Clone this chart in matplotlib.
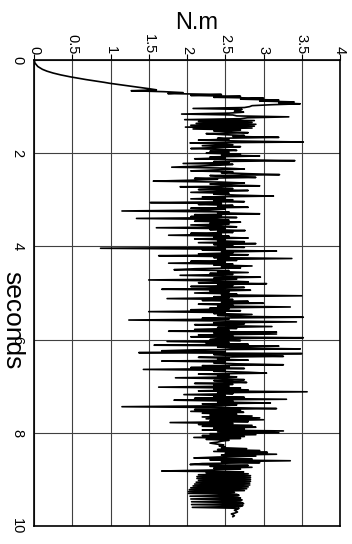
import matplotlib.pyplot as plt
import numpy as np

plt.rcParams['font.family'] = ['Liberation Sans', 'DejaVu Sans']

dt = 0.02  # sample period (s)

# motor torque in N.m, one value every 20 ms
spin_up = [
    0.00, 0.00, 0.01, 0.01, 0.02, 0.03, 0.04, 0.05, 0.07, 0.09, 0.11, 0.14, 0.17,
    0.21, 0.25, 0.30, 0.35, 0.41, 0.47, 0.54, 0.61, 0.68, 0.76, 0.84, 0.92,
    0.99, 1.08, 1.17, 1.26, 1.36, 1.45, 1.52, 1.60, 1.27, 1.70, 1.95, 1.75, 2.45,
    2.05, 2.70, 2.35, 3.00, 2.70, 3.20, 2.95, 3.40, 3.20, 3.48, 3.10, 2.85,
]
loaded = [
    # 1.00 - 1.98
    2.82, 2.75, 2.08, 2.72, 2.68, 2.62, 2.74, 2.55, 1.93, 2.60, 2.65, 3.33, 2.79,
    2.70, 1.97, 2.88, 2.15, 2.85, 2.12, 2.90, 2.05, 2.88, 1.98, 2.85, 2.08,
    2.70, 2.35, 2.55, 2.80, 2.25, 2.45, 2.75, 2.60, 3.20, 2.40, 2.55, 2.15, 2.70,
    3.52, 2.04, 2.45, 2.60, 2.20, 2.70, 2.35, 2.05, 2.50, 2.65, 2.30, 2.55,
    # 2.00 - 2.98
    2.25, 2.70, 2.45, 2.95, 2.30, 2.50, 2.10, 2.65, 3.41, 2.35, 2.55, 1.95, 2.60,
    2.40, 2.10, 1.80, 2.50, 2.75, 2.35, 2.05, 2.60, 2.45, 2.80, 3.21, 2.30,
    2.55, 2.90, 2.10, 2.40, 2.05, 1.56, 2.45, 2.75, 2.30, 2.50, 2.95, 1.91, 2.40,
    2.60, 2.15, 2.80, 2.45, 2.05, 2.55, 2.35, 2.65, 3.13, 2.20, 2.50, 2.05,
    # 3.00 - 3.98
    2.60, 2.35, 2.75, 1.52, 2.45, 2.15, 2.60, 2.40, 2.80, 2.05, 2.50, 2.30, 1.15,
    2.55, 2.40, 2.95, 2.10, 2.45, 2.05, 2.65, 1.34, 2.40, 2.55, 2.10, 2.70,
    2.30, 2.55, 2.05, 2.45, 2.65, 1.60, 2.50, 2.30, 2.76, 2.40, 2.60, 2.05, 2.45,
    1.76, 2.55, 2.35, 2.80, 2.10, 2.50, 2.40, 2.75, 2.15, 2.90, 2.35, 2.60,
    # 4.00 - 4.98
    2.40, 2.75, 0.87, 2.50, 2.20, 3.17, 2.45, 2.60, 2.15, 2.80, 1.63, 2.55, 2.35,
    3.37, 2.40, 2.65, 2.05, 2.50, 1.76, 2.60, 2.35, 2.85, 2.45, 2.70, 2.10,
    1.83, 2.55, 2.40, 2.80, 2.30, 2.60, 1.91, 2.50, 2.96, 2.35, 2.65, 1.50, 2.45,
    2.80, 2.15, 3.04, 2.40, 2.60, 2.05, 2.75, 2.45, 1.67, 2.83, 2.30, 2.55,
    # 5.00 - 5.98
    2.10, 2.65, 2.45, 3.50, 2.35, 2.55, 1.74, 2.60, 2.20, 2.80, 2.45, 3.00, 2.15,
    2.60, 2.40, 3.35, 2.30, 2.55, 2.05, 2.70, 1.50, 2.50, 2.35, 2.85, 2.40,
    2.60, 3.52, 2.20, 2.55, 1.24, 2.45, 3.43, 2.35, 2.75, 2.10, 2.50, 3.11, 2.40,
    2.65, 2.10, 2.55, 1.76, 3.17, 2.35, 3.17, 2.15, 2.60, 2.05, 3.52, 2.40,
    # 6.00 - 6.98
    2.30, 2.70, 1.74, 2.55, 2.25, 2.80, 1.57, 3.20, 2.40, 2.60, 3.48, 2.10, 1.67,
    2.50, 1.37, 3.50, 2.35, 2.65, 3.26, 2.15, 2.55, 2.40, 2.80, 1.67, 2.50,
    2.35, 2.65, 3.26, 2.20, 2.55, 2.05, 2.75, 1.43, 2.50, 2.35, 2.80, 3.04, 2.15,
    2.55, 2.40, 2.65, 1.85, 2.50, 2.75, 2.35, 2.55, 2.78, 2.10, 2.60, 2.35,
    # 7.00 - 7.98
    2.55, 1.63, 2.70, 2.35, 2.80, 2.15, 3.57, 2.40, 2.60, 1.96, 2.50, 2.35, 2.75,
    2.10, 3.30, 1.83, 2.60, 2.40, 3.09, 2.20, 2.65, 2.45, 1.15, 2.55, 3.17,
    2.10, 2.70, 2.05, 2.74, 2.20, 2.65, 2.30, 2.85, 2.20, 2.95, 2.25, 3.00, 2.30,
    2.80, 1.78, 2.60, 2.15, 2.85, 2.20, 2.90, 2.35, 2.75, 2.20, 3.26, 2.40,
    # 8.00 - 8.98
    3.20, 2.30, 2.90, 2.20, 2.75, 2.09, 2.70, 2.25, 2.55, 2.45, 2.40, 2.30, 2.38,
    2.48, 2.42, 2.50, 2.45, 2.78, 2.40, 2.95, 2.35, 3.05, 2.50, 3.17, 2.45,
    2.90, 2.40, 2.09, 2.85, 2.30, 3.35, 2.45, 2.95, 2.20, 2.04, 2.80, 2.30, 2.85,
    2.35, 2.70, 2.30, 1.67, 2.74, 2.25, 2.80, 2.15, 2.83, 2.13, 2.83, 2.13,
]
settling = [
    2.83, 2.15, 2.83, 2.12, 2.82, 2.10, 2.82, 2.08, 2.80, 2.05, 2.78, 2.03, 2.75,
    2.02, 2.62, 2.02, 2.65, 2.68, 2.04, 2.66, 2.70, 2.05, 2.72, 2.70, 2.06,
    2.72, 2.74, 2.06, 2.73, 2.70, 2.07, 2.68, 2.66, 2.62, 2.64, 2.66, 2.63, 2.58,
    2.60, 2.62, 2.60,
]

torque_ticks = ['0', '0.5', '1', '1.5', '2', '2.5', '3', '3.5', '4']
time_ticks = ['0', '2', '4', '6', '8', '10']

torque = np.array(spin_up + loaded + settling)
t = np.arange(len(torque)) * dt

fig = plt.figure(figsize=(3.52, 5.44), dpi=100)
ax = fig.add_axes([34 / 352, 18 / 544, 306 / 352, 466 / 544])

ax.plot(torque, t, color='black', lw=1.2)

ax.set_xlim(0, 4)
ax.set_ylim(10, 0)
ax.xaxis.tick_top()
ax.set_xticks(np.linspace(0, 4, len(torque_ticks)))
ax.set_xticklabels(torque_ticks, rotation=-90, fontsize=10.5)
for lbl in ax.get_xticklabels():
    lbl.set_ha('center')
    lbl.set_va('bottom')
ax.set_yticks(np.linspace(0, 10, len(time_ticks)))
ax.set_yticklabels(time_ticks, rotation=-90, fontsize=10.5, va='center')
ax.tick_params(axis='x', direction='out', length=4, pad=0, width=0.8)
ax.tick_params(axis='y', length=0, pad=7)

ax.grid(True, color='0.25', lw=0.8)
for s in ax.spines.values():
    s.set_linewidth(1.2)

fig.text(197 / 352, 1 - 23 / 544, 'N.m', ha='center', va='center', fontsize=17)
fig.text(12.5 / 352, 1 - 320 / 544, 'seconds', ha='center', va='center',
         rotation=-90, fontsize=19)

fig.savefig('out.png', dpi=100)
